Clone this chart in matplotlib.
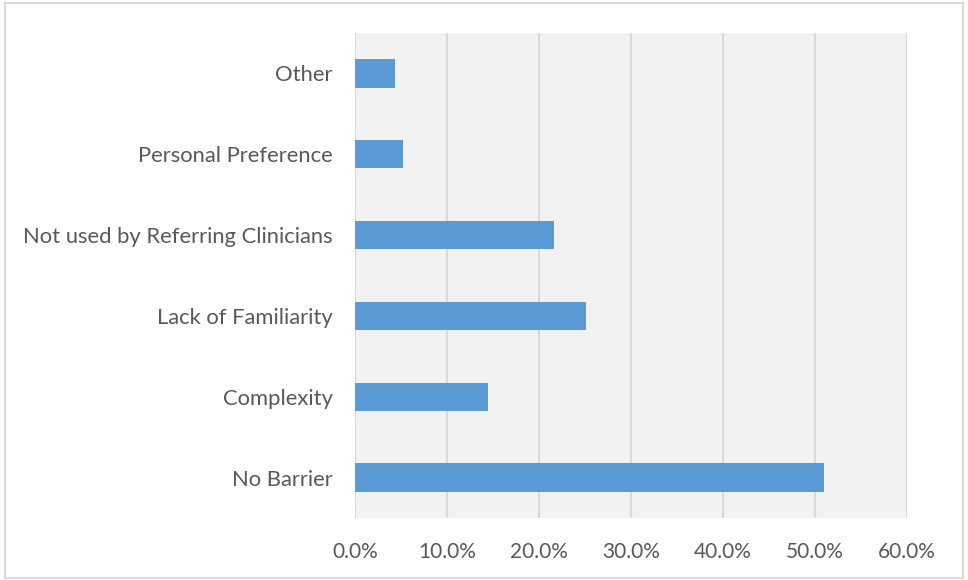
import matplotlib.pyplot as plt
from matplotlib.patches import Rectangle
from matplotlib.ticker import FuncFormatter

plt.rcParams["font.family"] = ["Lato", "DejaVu Sans"]

# barriers, bottom to top
barriers = [
    "No Barrier",
    "Complexity",
    "Lack of Familiarity",
    "Not used by Referring Clinicians",
    "Personal Preference",
    "Other",
]
share = [51.0, 14.5, 25.1, 21.6, 5.2, 4.3]
xticks = [0, 10, 20, 30, 40, 50, 60]

text_grey = "#595959"
line_grey = "#D9D9D9"

fig = plt.figure(figsize=(9.68, 5.8), dpi=100)
ax = fig.add_axes([355 / 968, 1 - 518 / 580, 552 / 968, 485 / 580])

ax.barh(range(len(barriers)), share, height=0.35, color="#5B9BD5", zorder=3)

ax.set_xlim(0, 60)
ax.set_ylim(-0.5, len(barriers) - 0.5)
ax.set_xticks(xticks)
ax.xaxis.set_major_formatter(FuncFormatter(lambda v, p: f"{v:.1f}%"))
ax.set_yticks(range(len(barriers)))
ax.set_yticklabels(barriers)

ax.set_facecolor("#F2F2F2")
ax.grid(axis="x", color=line_grey, linewidth=1.5, zorder=0)
for s in ax.spines.values():
    s.set_visible(False)
ax.tick_params(axis="both", length=0, colors=text_grey)
ax.tick_params(axis="y", pad=16, labelsize=15.8)
ax.tick_params(axis="x", pad=17, labelsize=15)

# outer chart border
fig.patches.append(Rectangle((5 / 968, 2 / 580), 958 / 968, 575 / 580,
                             transform=fig.transFigure, fill=False,
                             edgecolor=line_grey, linewidth=1.5))

fig.savefig("out.png", dpi=100)
